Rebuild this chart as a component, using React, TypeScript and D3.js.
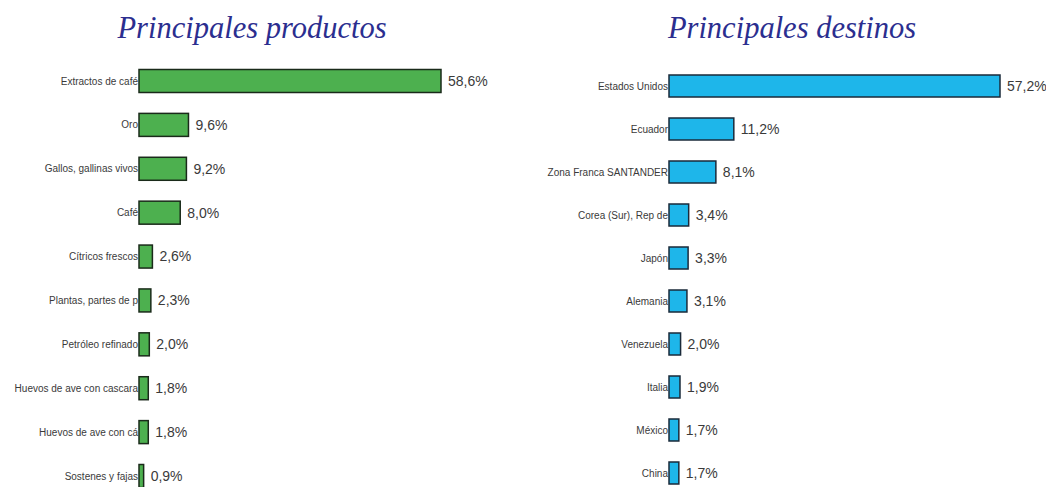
import React from "react";
import * as d3 from "d3";

const products = [
  "Extractos de café",
  "Oro",
  "Gallos, gallinas vivos",
  "Café",
  "Cítricos frescos",
  "Plantas, partes de p",
  "Petróleo refinado",
  "Huevos de ave con cascara",
  "Huevos de ave con cá",
  "Sostenes y fajas",
];
const productValues = [58.6, 9.6, 9.2, 8.0, 2.6, 2.3, 2.0, 1.8, 1.8, 0.9];

const destinations = [
  "Estados Unidos",
  "Ecuador",
  "Zona Franca SANTANDER",
  "Corea (Sur), Rep de",
  "Japón",
  "Alemania",
  "Venezuela",
  "Italia",
  "México",
  "China",
];
const destinationValues = [57.2, 11.2, 8.1, 3.4, 3.3, 3.1, 2.0, 1.9, 1.7, 1.7];

const titles = ["Principales productos", "Principales destinos"];

const fmt = (v: number) => d3.format(".1f")(v).replace(".", ",") + "%";

type PanelProps = {
  title: string;
  titleX: number;
  labels: string[];
  values: number[];
  x0: number;
  maxWidth: number;
  yTop: number;
  yBottom: number;
  barH: number;
  fill: string;
  stroke: string;
};

function Panel(p: PanelProps) {
  const x = d3.scaleLinear().domain([0, d3.max(p.values)!]).range([0, p.maxWidth]);
  const y = d3.scalePoint<string>().domain(p.labels).range([p.yTop, p.yBottom]);
  return (
    <g>
      <text
        x={p.titleX}
        y={38}
        textAnchor="middle"
        fontFamily="'Liberation Serif', 'Times New Roman', serif"
        fontStyle="italic"
        fontSize={30.5}
        fill="#2B2E8F"
      >
        {p.title}
      </text>
      {p.labels.map((l, i) => {
        const cy = y(l)!;
        const w = x(p.values[i]);
        return (
          <g key={l}>
            <text
              x={p.x0 - 1}
              y={cy}
              dy="0.35em"
              textAnchor="end"
              fontFamily="'Liberation Sans Narrow', 'Arial Narrow', 'Liberation Sans', sans-serif"
              fontSize={10}
              fill="#3a3a3a"
            >
              {l}
            </text>
            <rect
              x={p.x0}
              y={cy - p.barH / 2}
              width={w}
              height={p.barH}
              fill={p.fill}
              stroke={p.stroke}
              strokeWidth={1.5}
            />
            <text
              x={p.x0 + w + 7}
              y={cy}
              dy="0.35em"
              fontFamily="'Liberation Sans Narrow', 'Arial Narrow', 'Liberation Sans', sans-serif"
              fontSize={14}
              fill="#3a3a3a"
            >
              {fmt(p.values[i])}
            </text>
          </g>
        );
      })}
    </g>
  );
}

export default function App() {
  return (
    <svg
      width={1046}
      height={487}
      style={{ position: "absolute", left: 0, top: 0, background: "#fff" }}
    >
      <rect width={1046} height={487} fill="#fff" />
      <Panel
        title={titles[0]}
        titleX={252}
        labels={products}
        values={productValues}
        x0={139}
        maxWidth={302}
        yTop={81}
        yBottom={476}
        barH={23}
        fill="#4DB04F"
        stroke="#1a2a1a"
      />
      <Panel
        title={titles[1]}
        titleX={792}
        labels={destinations}
        values={destinationValues}
        x0={669}
        maxWidth={331}
        yTop={86}
        yBottom={473}
        barH={22}
        fill="#1EB6EA"
        stroke="#1a2a3a"
      />
    </svg>
  );
}
